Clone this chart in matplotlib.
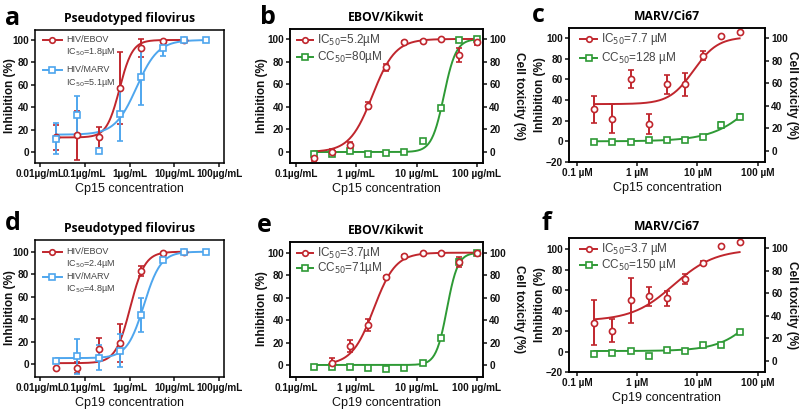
import numpy as np
import matplotlib

matplotlib.use("Agg")
import matplotlib.pyplot as plt

plt.rcParams.update({
    "font.family": ["Liberation Sans", "DejaVu Sans"],
    "axes.linewidth": 1.1,
    "xtick.major.width": 1.1,
    "ytick.major.width": 1.1,
    "xtick.major.size": 3,
    "ytick.major.size": 3,
})

RED = "#c0262d"
BLUE = "#4ea6ee"
GREEN = "#2e9a35"
INK = "#111111"
LEG = "#444444"

# ---------------- data ----------------
conc_pseudo = [0.0229, 0.0686, 0.206, 0.617, 1.85, 5.56, 16.7, 50]       # µg/mL, 3-fold
conc_ebov = [0.195, 0.39, 0.78, 1.56, 3.125, 6.25, 12.5, 25, 50, 100]    # µg/mL, 2-fold
conc_marv = [0.195, 0.39, 0.78, 1.56, 3.125, 6.25, 12.5, 25, 50]         # µM, 2-fold

# a  (Cp15, pseudotyped)
a_ebov = [13, 15, 13, 57, 93, 99, 100]
a_ebov_err = [11, 22, 9, 32, 8, 1, 0]
a_marv = [12, 33, 1, 34, 67, 93, 100, 100]
a_marv_err = [14, 17, 0, 24, 25, 7, 0, 0]
# b  (Cp15, EBOV/Kikwit)
b_ic = [-5, 0, 6, 41, 75, 97, 98, 100, 86, 97]
b_ic_err = [3, 3, 3, 3, 3, 1, 1, 0, 6, 2]
b_cc = [-1.5, -1.5, 0.5, -1.5, -1, 0, 10, 38.5, 99, 100]
b_cc_err = [1, 1, 1, 0.5, 0.5, 0.5, 0.5, 1, 1, 0.5]
# c  (Cp15, MARV/Ci67)
c_ic = [31, 22, 60, 17, 55, 55, 83, 102, 106]
c_ic_err = [13, 14, 8.5, 9.5, 9, 11, 4.5, 0, 0]
c_cc = [-1, -1, -0.5, 1, 1.5, 1.5, 4, 15.5, 24]
c_cc_err = [0.5, 1, 0.5, 0.5, 0.5, 0.5, 1, 3, 2]
# d  (Cp19, pseudotyped)
d_ebov = [-3.5, -3, 14, 19, 83, 99, 100]
d_ebov_err = [0, 5, 9, 17, 4.5, 0, 0]
d_marv = [2.5, 7, 6, 12, 44, 93, 100, 100]
d_marv_err = [0, 15.5, 11, 14.5, 15, 1, 0, 0]
# e  (Cp19, EBOV/Kikwit)  inhibition starts at 0.39
e_ic = [2, 17, 35.5, 78, 97, 99.5, 100, 92, 100]
e_ic_err = [4, 5, 5.5, 1, 0.5, 0.5, 0, 4.5, 0.5]
e_cc = [-1.5, -1.5, -1.5, -3, -4, -2.5, 2, 24, 92, 100]
e_cc_err = [0.5, 0.5, 0.5, 0.5, 0.5, 0.5, 0.5, 1, 2, 0.5]
# f  (Cp19, MARV/Ci67)
f_ic = [28, 20.5, 50, 54, 52, 71, 87, 103, 107.5]
f_ic_err = [22, 11, 22, 9, 7.5, 5, 2, 0, 0]
f_cc = [-2.5, -1.5, 1, -4, 1.5, 1, 6.5, 6.5, 19.5]
f_cc_err = [1, 1.5, 1.5, 0.5, 1.5, 0.5, 1, 0.5, 1.5]

# fitted dose-response curves: (bottom, top, EC50, hill)
fit = {
    "a_ebov": (13, 100, 0.6, 3.0), "a_marv": (15.5, 100, 1.44, 1.8),
    "b_ic": (0, 100, 1.85, 2.3), "b_cc": (0, 100, 28.3, 4.3),
    "c_ic": (36, 101, 8.6, 2.16), "c_cc": (0, 100, 139, 1.15),
    "d_ebov": (1, 100, 1.04, 2.65), "d_marv": (5.5, 100, 2.1, 2.3),
    "e_ic": (0, 100, 1.94, 2.4), "e_cc": (0, 100, 31.8, 4.8),
    "f_ic": (30, 100, 4.0, 1.26), "f_cc": (0.5, 100, 148, 1.33),
}

xt_pseudo = [0.01, 0.1, 1, 10, 100]
xl_pseudo = ["0.01µg/mL", "0.1µg/mL", "1µg/mL", "10µg/mL", "100µg/mL"]
xt_ebov = [0.1, 1, 10, 100]
xl_ebov = ["0.1µg/mL", "1 µg/mL", "10 µg/mL", "100 µg/mL"]
xt_marv = [0.1, 1, 10, 100]
xl_marv = ["0.1 µM", "1 µM", "10 µM", "100 µM"]

W, H = 800, 409
fig = plt.figure(figsize=(8.0, 4.09), dpi=100)


def px_axes(l, t, r, b):
    return fig.add_axes([l / W, 1 - b / H, (r - l) / W, (b - t) / H])


def hill(x, p):
    bot, top, ec, h = p
    x = np.asarray(x, float)
    return bot + (top - bot) / (1 + (ec / x) ** h)


def series(ax, x, y, err, p, color, marker):
    xs = np.logspace(np.log10(x[0]), np.log10(x[-1]), 200)
    ax.plot(xs, hill(xs, p), color=color, lw=1.4, zorder=2)
    ax.errorbar(x, y, yerr=err, fmt=marker, color=color, mfc="white", mec=color,
                ms=4.4, mew=1.2, elinewidth=1.4, capsize=2.5, capthick=1.4, zorder=3)


def leg(ax, y, color, marker, lines, x0=0.04, x1=0.14, fs=8, dy=0.09, col=LEG):
    ax.plot([x0, x1], [y, y], color=color, lw=1.4, transform=ax.transAxes, clip_on=False)
    ax.plot([(x0 + x1) / 2], [y], marker=marker, color=color, mfc="white", ms=4,
            mew=1.2, transform=ax.transAxes, clip_on=False)
    for i, s in enumerate(lines):
        ax.text(x1 + 0.02, y - i * dy, s, transform=ax.transAxes, fontsize=fs,
                color=col, va="center", ha="left")


def ylab(x, y, s, rot=90):
    fig.text(x / W, 1 - y / H, s, rotation=rot, fontsize=8.5, fontweight="bold",
             ha="center", va="center", color=INK)


def style(ax, xlim, ylim, xt, xl, xlabel, yticks):
    ax.set_xscale("log")
    ax.set_xlim(*xlim)
    ax.set_ylim(*ylim)
    ax.set_xticks(xt)
    ax.set_xticklabels(xl)
    ax.minorticks_off()
    ax.set_yticks(yticks)
    ax.tick_params(labelsize=7.2, pad=1.5, colors=INK)
    for lab in ax.get_xticklabels() + ax.get_yticklabels():
        lab.set_fontweight("bold")
    ax.set_xlabel(xlabel, fontsize=9, labelpad=2.5, color=INK)


def right_axis(ax, ylim):
    r = ax.twinx()
    r.set_ylim(*ylim)
    r.set_yticks([0, 20, 40, 60, 80, 100])
    r.tick_params(labelsize=7.2, pad=1.5, colors=INK)
    for lab in r.get_yticklabels():
        lab.set_fontweight("bold")
    return r


def title(ax, s, letter, dx, by):
    ax.set_title(s, fontsize=8.7, fontweight="bold", family=["Open Sans", "DejaVu Sans"], pad=6)
    ax.text(dx, by, letter, transform=ax.transAxes, fontsize=18, fontweight="bold",
            family=["Open Sans", "DejaVu Sans"], ha="left", va="baseline")


sub = "IC$_{50}$"
csub = "CC$_{50}$"

# ---------------- panel a ----------------
ax = px_axes(35, 30, 224, 163)
series(ax, conc_pseudo[:len(a_ebov)], a_ebov, a_ebov_err, fit["a_ebov"], RED, "o")
series(ax, conc_pseudo, a_marv, a_marv_err, fit["a_marv"], BLUE, "s")
style(ax, (10 ** -2.11, 10 ** 2.11), (-9.8, 108.9), xt_pseudo, xl_pseudo,
      "Cp15 concentration", [0, 20, 40, 60, 80, 100])
leg(ax, 0.925, RED, "o", ["HIV/EBOV", sub + "=1.8µM"], x0=0.04, x1=0.145, fs=6.5, dy=0.09)
leg(ax, 0.70, BLUE, "s", ["HIV/MARV", sub + "=5.1µM"], x0=0.04, x1=0.145, fs=6.5, dy=0.095)
title(ax, "Pseudotyped filovirus", "a", -0.16, 1.04)
ylab(10, 96, "Inhibition (%)")

# ---------------- panel b ----------------
ax = px_axes(290, 29, 483, 163)
series(ax, conc_ebov, b_cc, b_cc_err, fit["b_cc"], GREEN, "s")
series(ax, conc_ebov, b_ic, b_ic_err, fit["b_ic"], RED, "o")
style(ax, (10 ** -1.1, 10 ** 2.1), (-9.7, 108.8), xt_ebov, xl_ebov,
      "Cp15 concentration", [0, 20, 40, 60, 80, 100])
right_axis(ax, (-9.7, 108.8))
leg(ax, 0.918, RED, "o", [sub + "=5.2µM"], x0=0.036, x1=0.12, fs=8.5)
leg(ax, 0.79, GREEN, "s", [csub + "=80µM"], x0=0.036, x1=0.12, fs=8.5)
title(ax, "EBOV/Kikwit", "b", -0.155, 1.04)
ylab(262, 96, "Inhibition (%)")
ylab(519, 96, "Cell toxicity (%)", rot=270)

# ---------------- panel c ----------------
ax = px_axes(569, 28, 765, 162)
series(ax, conc_marv, c_cc, c_cc_err, fit["c_cc"], GREEN, "s")
series(ax, conc_marv, c_ic, c_ic_err, fit["c_ic"], RED, "o")
style(ax, (10 ** -1.13, 10 ** 2.12), (-19.2, 109.6), xt_marv, xl_marv,
      "Cp15 concentration", [-20, 0, 20, 40, 60, 80, 100])
right_axis(ax, (-9.7, 108.8))
leg(ax, 0.918, RED, "o", [sub + "=7.7 µM"], x0=0.056, x1=0.143, fs=8.5)
leg(ax, 0.776, GREEN, "s", [csub + "=128 µM"], x0=0.056, x1=0.143, fs=8.5)
title(ax, "MARV/Ci67", "c", -0.19, 1.045)
ylab(540, 95, "Inhibition (%)")
ylab(792, 95, "Cell toxicity (%)", rot=270)

# ---------------- panel d ----------------
ax = px_axes(35, 240, 224, 377)
series(ax, conc_pseudo[:len(d_ebov)], d_ebov, d_ebov_err, fit["d_ebov"], RED, "o")
series(ax, conc_pseudo, d_marv, d_marv_err, fit["d_marv"], BLUE, "s")
style(ax, (10 ** -2.11, 10 ** 2.11), (-11.3, 110.4), xt_pseudo, xl_pseudo,
      "Cp19 concentration", [0, 20, 40, 60, 80, 100])
leg(ax, 0.915, RED, "o", ["HIV/EBOV", sub + "=2.4µM"], x0=0.04, x1=0.145, fs=6.5, dy=0.09)
leg(ax, 0.73, BLUE, "s", ["HIV/MARV", sub + "=4.8µM"], x0=0.04, x1=0.145, fs=6.5, dy=0.085)
title(ax, "Pseudotyped filovirus", "d", -0.16, 1.073)
ylab(10, 308, "Inhibition (%)")

# ---------------- panel e ----------------
ax = px_axes(290, 242, 483, 377)
series(ax, conc_ebov, e_cc, e_cc_err, fit["e_cc"], GREEN, "s")
series(ax, conc_ebov[1:], e_ic, e_ic_err, fit["e_ic"], RED, "o")
style(ax, (10 ** -1.1, 10 ** 2.1), (-10.7, 109.5), xt_ebov, xl_ebov,
      "Cp19 concentration", [0, 20, 40, 60, 80, 100])
right_axis(ax, (-10.7, 109.5))
leg(ax, 0.92, RED, "o", [sub + "=3.7µM"], x0=0.036, x1=0.12, fs=8.5)
leg(ax, 0.805, GREEN, "s", [csub + "=71µM"], x0=0.036, x1=0.12, fs=8.5)
title(ax, "EBOV/Kikwit", "e", -0.17, 1.074)
ylab(262, 309, "Inhibition (%)")
ylab(519, 309, "Cell toxicity (%)", rot=270)

# ---------------- panel f ----------------
ax = px_axes(569, 238, 765, 372)
series(ax, conc_marv, f_cc, f_cc_err, fit["f_cc"], GREEN, "s")
series(ax, conc_marv, f_ic, f_ic_err, fit["f_ic"], RED, "o")
style(ax, (10 ** -1.13, 10 ** 2.12), (-19.8, 111), xt_marv, xl_marv,
      "Cp19 concentration", [-20, 0, 20, 40, 60, 80, 100])
right_axis(ax, (-9.8, 109))
leg(ax, 0.916, RED, "o", [sub + "=3.7 µM"], x0=0.056, x1=0.143, fs=8.5)
leg(ax, 0.80, GREEN, "s", [csub + "=150 µM"], x0=0.056, x1=0.143, fs=8.5)
title(ax, "MARV/Ci67", "f", -0.14, 1.06)
ylab(540, 305, "Inhibition (%)")
ylab(792, 305, "Cell toxicity (%)", rot=270)

fig.savefig("out.png", dpi=100, facecolor="white")
